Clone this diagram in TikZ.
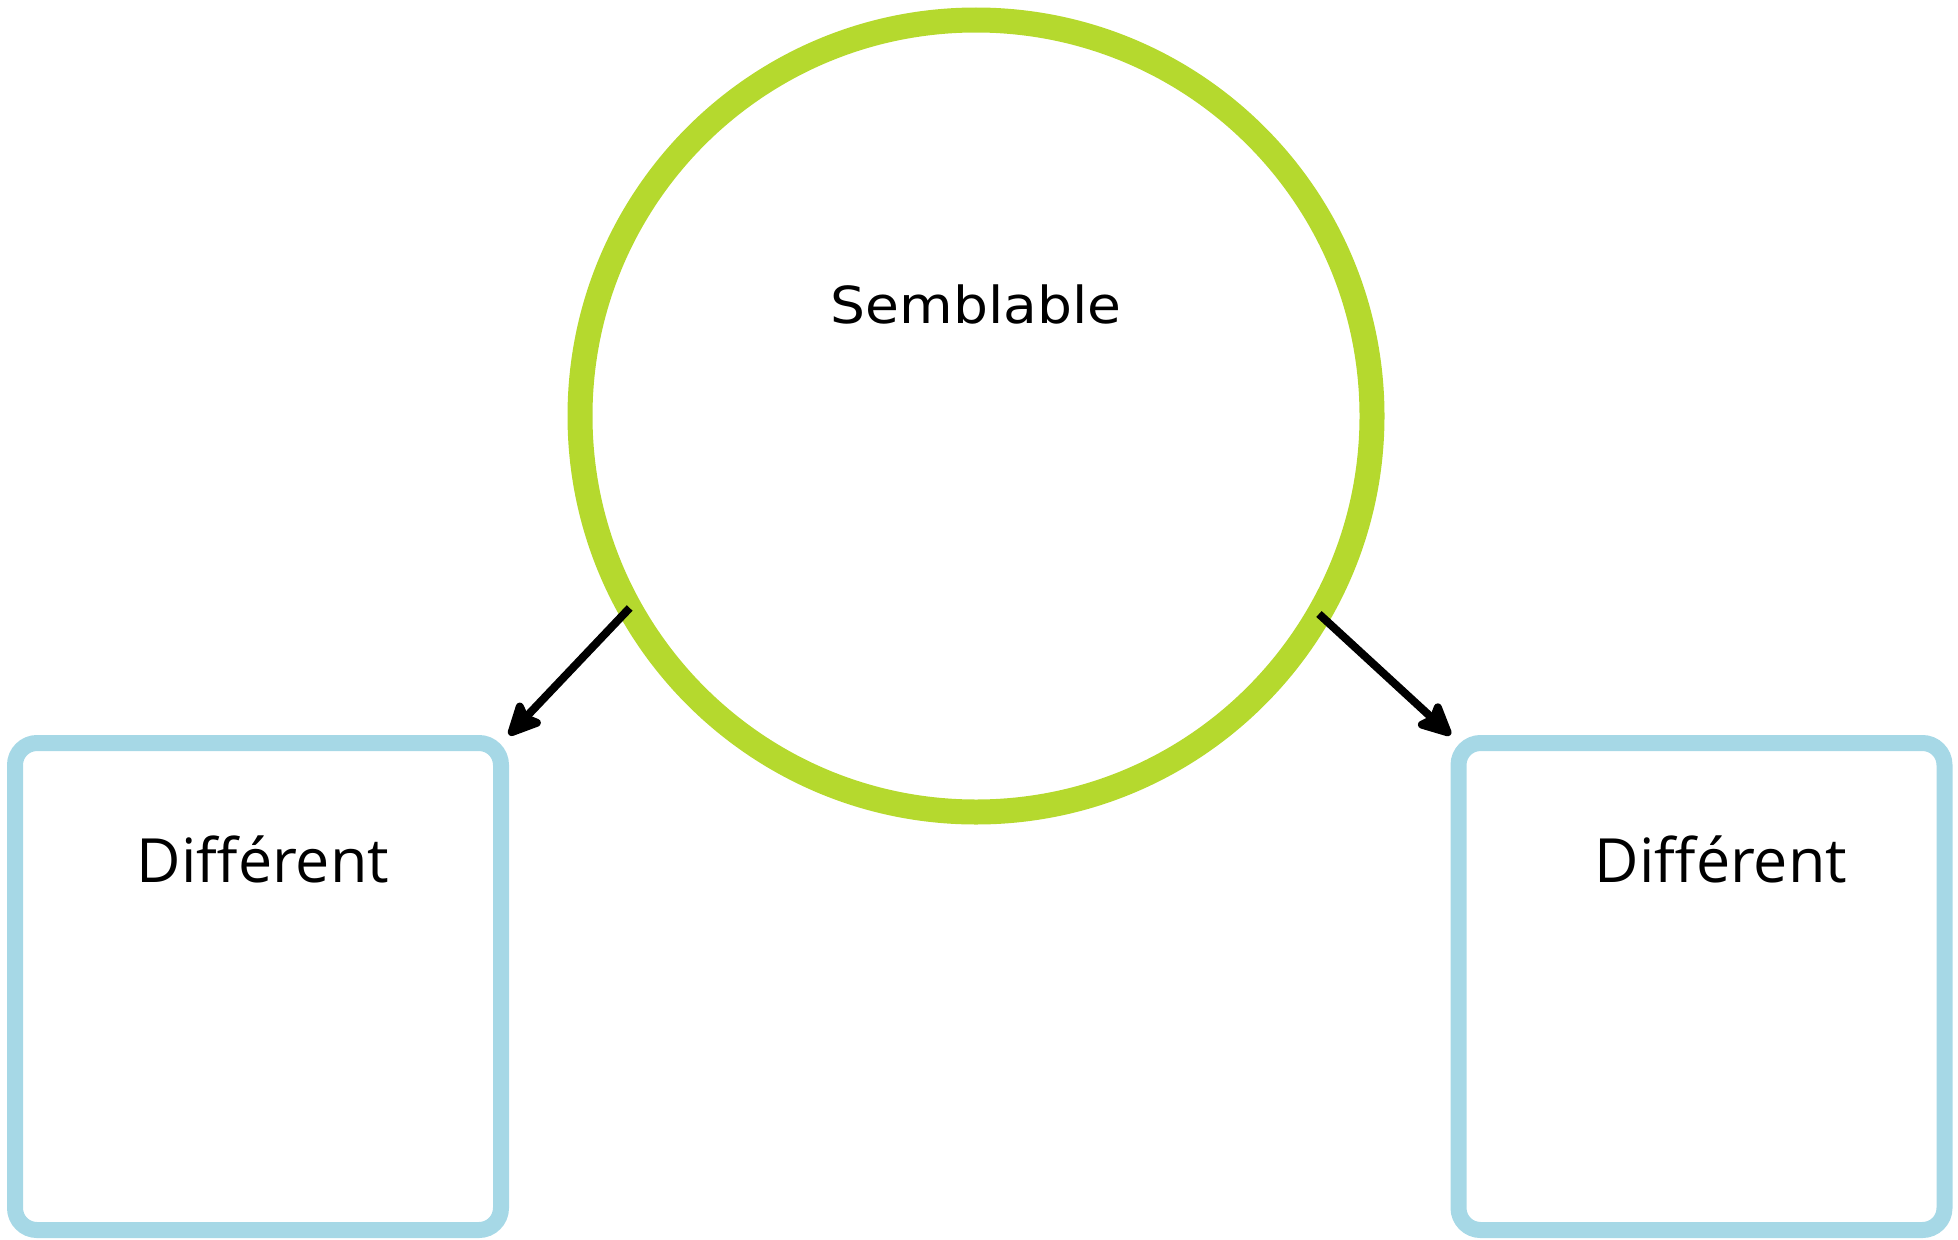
\documentclass[tikz,border=0pt]{standalone}
\usepackage{fontspec}
\setmainfont{Open Sans}
\newfontfamily\difffont{Open Sans}
\newfontfamily\semfont[FakeStretch=1.08]{DejaVu Sans}
\usepackage{tikz}
\usetikzlibrary{arrows.meta,positioning}
\definecolor{limegreen}{RGB}{181, 217, 46}
\definecolor{paleblue}{RGB}{166, 216, 230}

\begin{document}
\begin{tikzpicture}[x=1pt, y=-1pt]
    \tikzstyle{bulle} = [circle, draw=limegreen, line width=25pt, minimum size=792pt, inner sep=0pt, outer sep=0pt]
    \tikzstyle{cadre} = [rectangle, draw=paleblue, line width=16pt, rounded corners=22pt, minimum width=486pt, minimum height=487pt, inner sep=0pt]
    \tikzstyle{etiq} = [anchor=base, inner sep=0pt]
    \tikzstyle{fleche} = [line width=8pt, -{Stealth[length=40pt, width=38pt, inset=7pt, round]}]

    \useasboundingbox (0,0) rectangle (1958,1239);

    \node[bulle] (semb) at (976, 416) {};
    \node[cadre] (gauche) at (258, 986.5) {};
    \node[cadre] (droite) at (1701.5, 986.5) {};

    \node[etiq, font=\semfont\fontsize{51}{60}\selectfont] (tsemb) at (976, 323) {Semblable};
    \node[etiq, font=\difffont\fontsize{61}{70}\selectfont] (tgauche) at (263, 882) {Différent};
    \node[etiq, font=\difffont\fontsize{61}{70}\selectfont] (tdroite) at (1721, 882) {Différent};

    \draw[fleche] (semb.209) -- (gauche.north east);
    \draw[fleche] (semb.330) -- (droite.north west);
\end{tikzpicture}
\end{document}
